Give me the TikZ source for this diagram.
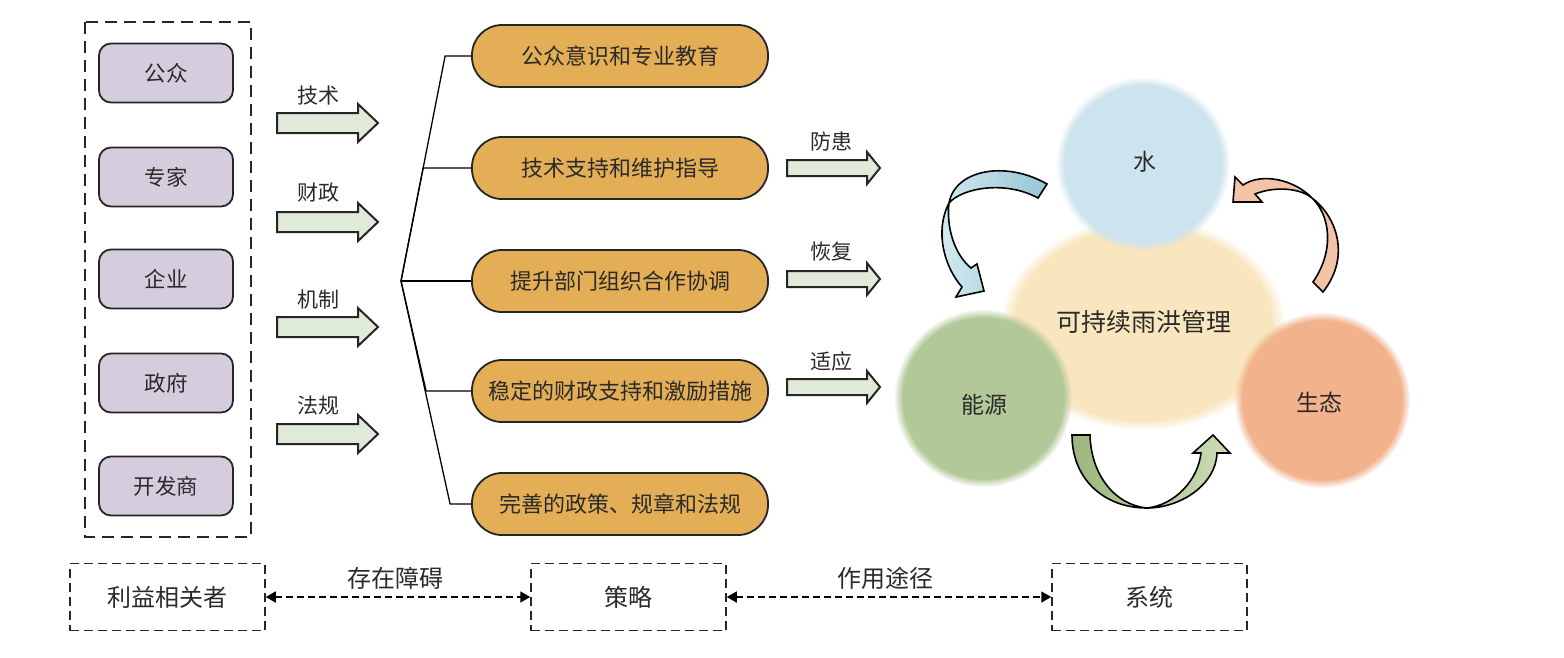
\documentclass[tikz,border=0pt]{standalone}
\usepackage{fontspec}
\setmainfont{Noto Sans CJK SC}
\usetikzlibrary{arrows.meta,fadings}
\definecolor{txt}{HTML}{2A2A2A}
\definecolor{purp}{HTML}{D5CDDD}
\definecolor{orng}{HTML}{E4AE56}
\definecolor{pale}{HTML}{E0EAD8}
\definecolor{cwater}{HTML}{CDE4EE}
\definecolor{cyell}{HTML}{F9E6BE}
\definecolor{cgreen}{HTML}{B3C898}
\definecolor{csalm}{HTML}{F1B28C}
\definecolor{abluedark}{HTML}{96C6D6}
\definecolor{abluelight}{HTML}{D6EBF2}
\definecolor{agreendark}{HTML}{9DB67E}
\definecolor{agreenlight}{HTML}{CCDBB5}
\definecolor{asalm}{HTML}{F3C3A8}
\newcommand\mkblkarrow[6]{%
  \draw[blk] ({#1},{#4-#5}) -- ({#2},{#4-#5}) -- ({#2},{#4-#6}) -- ({#3},{#4})
    -- ({#2},{#4+#6}) -- ({#2},{#4+#5}) -- ({#1},{#4+#5}) -- cycle;}
\tikzset{
  stake/.style={draw=black!85, line width=1.8pt, rounded corners=12pt, fill=purp,
    minimum width=134pt, minimum height=59pt, font=\fontsize{21.5}{25}\selectfont, text=txt},
  strat/.style={draw=black!85, line width=1.8pt, rounded corners=30pt, fill=orng,
    minimum width=296pt, minimum height=62pt, font=\fontsize{22}{26}\selectfont, text=txt},
  dbox/.style={draw=black!85, dash pattern=on 9pt off 5pt, line width=1.5pt,
    minimum width=195pt, minimum height=67pt, font=\fontsize{24}{28}\selectfont, text=txt},
  lbl/.style={inner sep=0pt, font=\fontsize{21}{24}\selectfont, text=txt},
  blk/.style={draw=black!85, line width=2pt, fill=pale, line join=miter},
  brk/.style={draw=black, line width=1.3pt},
  darr/.style={draw=black, line width=1.6pt, dash pattern=on 7pt off 4pt,
    {Triangle[length=10pt,width=11pt]}-{Triangle[length=10pt,width=11pt]}},
  fuzzy/.style={path fading=circle with fuzzy edge 10 percent},
  curv/.style={draw=black, line width=1.6pt, line join=miter},
  ctext/.style={inner sep=0pt, text=txt, font=\fontsize{23}{27}\selectfont}
}
\begin{document}
\begin{tikzpicture}[x=1pt,y=-1pt]
\useasboundingbox[fill=white] (0,0) rectangle (1564,657);

% stakeholders
\draw[dash pattern=on 12pt off 7pt, line width=1.5pt, black!85] (85,22) rectangle (251,537);
\node[stake] (p1) at (166,73) {公众};
\node[stake] (p2) at (166,177) {专家};
\node[stake] (p3) at (166,279) {企业};
\node[stake] (p4) at (166,383) {政府};
\node[stake] (p5) at (166,486) {开发商};

% left block arrows
\mkblkarrow{277}{358}{378}{123}{10}{19}
\mkblkarrow{277}{358}{378}{222}{10}{19}
\mkblkarrow{277}{358}{378}{327}{10}{19}
\mkblkarrow{277}{358}{378}{434}{10}{19}
\node[lbl] (l1) at (318,96) {技术};
\node[lbl] (l2) at (318,193) {财政};
\node[lbl] (l3) at (318,300) {机制};
\node[lbl] (l4) at (318,406) {法规};

% strategies
\node[strat] (s1) at (620,56) {公众意识和专业教育};
\node[strat] (s2) at (620,168) {技术支持和维护指导};
\node[strat] (s3) at (620,281) {提升部门组织合作协调};
\node[strat] (s4) at (620,391) {稳定的财政支持和激励措施};
\node[strat] (s5) at (620,504) {完善的政策、规章和法规};

\coordinate (v) at (401,281);
\draw[brk] (s1.west) -- ++(-26,0) -- (v);
\draw[brk] (s2.west) -- ++(-48,0) -- (v);
\draw[brk] (s3.west) -- (v);
\draw[brk] (s4.west) -- ++(-45,0) -- (v);
\draw[brk] (s5.west) -- ++(-21,0) -- (v);

% right block arrows
\mkblkarrow{787}{867}{880}{168}{8}{16}
\mkblkarrow{787}{867}{880}{279}{8}{16}
\mkblkarrow{787}{867}{880}{387}{8}{16}
\node[lbl] (r1) at (831,142) {防患};
\node[lbl] (r2) at (831,252) {恢复};
\node[lbl] (r3) at (831,362) {适应};

% system circles
\fill[cyell, path fading=circle with fuzzy edge 10 percent] (1143,324) ellipse (142pt and 106pt);
\fill[cwater, fuzzy] (1143,164) circle (87pt);
\fill[cgreen, fuzzy] (983,398) circle (89pt);
\fill[csalm, fuzzy] (1322,400) circle (88pt);
\node[ctext] (cw) at (1145,162) {水};
\node[ctext, font=\fontsize{25}{29}\selectfont] (cm) at (1144,322) {可持续雨洪管理};
\node[ctext] (ce) at (984,405) {能源};
\node[ctext] (cs) at (1319,402) {生态};

% curved arrows
\path[curv, left color=abluelight, right color=abluedark] (1047,184) .. controls (1005,160) and (955,170) .. (949,203)
  .. controls (946,228) and (955,255) .. (971,268)
  -- (977,264) -- (984,291) -- (956,297) -- (962,287)
  .. controls (945,268) and (934,232) .. (949,203)
  .. controls (962,188) and (1005,180) .. (1038,198) -- cycle;
\path[curv, fill=asalm] (1313,282) .. controls (1335,250) and (1330,215) .. (1312,198)
  .. controls (1295,180) and (1262,172) .. (1243,185)
  -- (1235,177) -- (1233,202) -- (1262,202) -- (1255,194)
  .. controls (1275,186) and (1300,188) .. (1312,198)
  .. controls (1335,215) and (1352,255) .. (1323,292) -- cycle;
\path[curv, left color=agreendark, right color=agreenlight] (1072,435) .. controls (1072,480) and (1105,508) .. (1147,508)
  .. controls (1180,508) and (1216,485) .. (1217,453)
  -- (1230,453) -- (1213,435) -- (1193,453) -- (1201,453)
  .. controls (1198,480) and (1175,505) .. (1147,508)
  .. controls (1115,505) and (1091,475) .. (1090,435) -- cycle;

% bottom row
\node[dbox] (b1) at (167.5,597) {利益相关者};
\node[dbox] (b2) at (628.5,597) {策略};
\node[dbox] (b3) at (1149.5,597) {系统};
\draw[darr] (b1.east) -- (b2.west);
\draw[darr] (b2.east) -- (b3.west);
\node[lbl, font=\fontsize{24}{28}\selectfont] (a1) at (395,578) {存在障碍};
\node[lbl, font=\fontsize{24}{28}\selectfont] (a2) at (885,578) {作用途径};
\end{tikzpicture}
\end{document}
